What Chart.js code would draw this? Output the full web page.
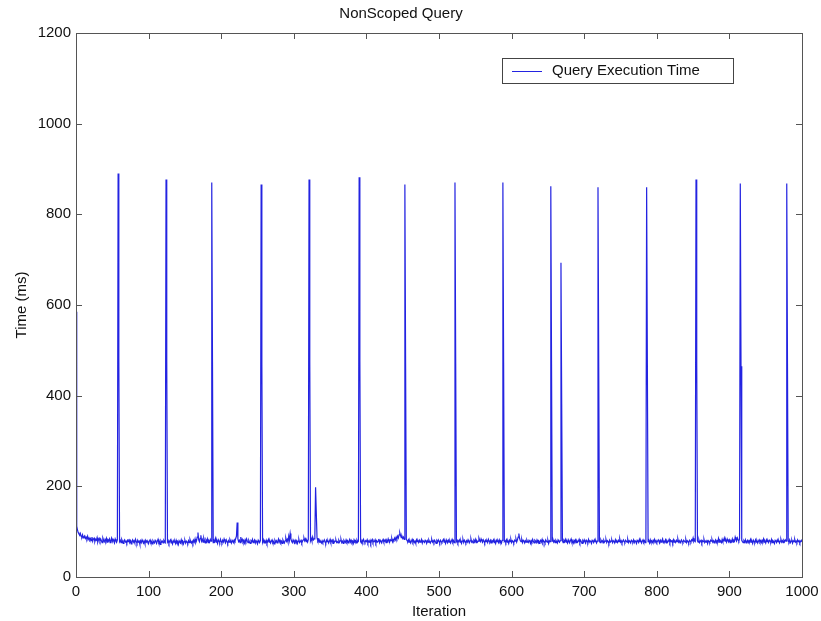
<!DOCTYPE html>
<html>
<head>
<meta charset="utf-8">
<script src="https://cdn.jsdelivr.net/npm/chart.js@4"></script>
<style>
  html, body { margin: 0; padding: 0; background: #fff; }
  #wrap { width: 821px; height: 621px; }
</style>
</head>
<body>
<div id="wrap"><canvas id="queryChart" width="821" height="621"></canvas></div>
<script>
// query time per iteration (ms), index = iteration number
const queryTimes = [
  585, 112, 104, 98, 95, 92, 96, 90, 88, 93, 86, 89, 91, 85, 88, 84, 90, 83, 86, 82,
  85, 80, 88, 79, 84, 86, 78, 83, 81, 87, 77, 82, 85, 79, 84, 80, 76, 86, 81, 78,
  83, 79, 85, 77, 82, 80, 84, 76, 81, 86, 78, 83, 79, 75, 84, 80, 77, 82, 890, 483,
  78, 81, 76, 83, 79, 74, 80, 82, 77, 79, 75, 81, 78, 84, 76, 80, 73, 79, 82, 77,
  80, 75, 83, 78, 74, 81, 77, 79, 72, 80, 76, 82, 78, 75, 79, 73, 81, 77, 80, 76,
  74, 79, 82, 76, 78, 73, 80, 77, 75, 81, 78, 74, 79, 83, 76, 78, 72, 80, 77, 79,
  75, 81, 78, 76, 877, 477, 77, 80, 74, 79, 82, 75, 78, 73, 80, 77, 79, 74, 81, 76,
  78, 72, 80, 77, 75, 82, 76, 79, 73, 78, 81, 75, 79, 77, 74, 80, 76, 83, 78, 75,
  79, 74, 81, 77, 84, 76, 80, 88, 98, 82, 78, 85, 92, 79, 83, 77, 86, 80, 75, 82,
  78, 84, 76, 80, 77, 83, 79, 870, 473, 76, 81, 78, 85, 77, 80, 74, 82, 79, 76, 83,
  78, 75, 81, 77, 84, 79, 76, 82, 78, 74, 80, 77, 83, 79, 75, 81, 78, 76, 82, 79,
  85, 90, 120, 84, 78, 81, 76, 88, 79, 83, 77, 80, 75, 82, 78, 84, 79, 76, 81, 77,
  74, 80, 78, 83, 76, 79, 82, 75, 80, 77, 73, 81, 78, 76, 80, 866, 473, 77, 82, 75,
  79, 76, 81, 74, 78, 83, 77, 80, 75, 79, 82, 76, 78, 73, 81, 77, 80, 75, 79, 84,
  77, 81, 76, 79, 74, 82, 78, 75, 80, 86, 79, 83, 77, 90, 81, 96, 84, 79, 76, 82,
  78, 75, 81, 77, 80, 74, 79, 83, 76, 78, 81, 75, 79, 82, 86, 80, 84, 78, 81, 77,
  83, 877, 475, 80, 85, 79, 88, 82, 84, 90, 198, 141, 86, 80, 83, 77, 81, 78, 75, 80,
  76, 79, 82, 77, 74, 81, 78, 80, 75, 79, 83, 76, 78, 81, 74, 80, 77, 79, 82, 76,
  78, 75, 81, 77, 80, 83, 76, 79, 74, 81, 78, 76, 82, 77, 80, 75, 79, 83, 77, 81,
  76, 79, 74, 82, 78, 80, 75, 81, 77, 79, 882, 477, 78, 75, 81, 77, 83, 79, 76, 80,
  78, 82, 75, 79, 77, 81, 74, 80, 83, 76, 79, 78, 82, 75, 80, 77, 79, 84, 76, 81,
  78, 75, 80, 83, 77, 79, 82, 76, 81, 78, 84, 79, 77, 82, 80, 85, 78, 83, 81, 86,
  82, 88, 84, 90, 86, 93, 98, 92, 87, 90, 85, 88, 83, 866, 468, 84, 80, 78, 82, 77,
  80, 75, 79, 83, 77, 81, 76, 79, 74, 82, 78, 80, 76, 81, 77, 79, 83, 75, 80, 78,
  76, 81, 79, 74, 80, 77, 82, 78, 75, 79, 83, 77, 80, 76, 81, 78, 74, 80, 77, 82,
  79, 75, 81, 78, 76, 80, 83, 77, 79, 74, 82, 78, 76, 81, 77, 80, 75, 79, 83, 77,
  80, 76, 870, 470, 78, 81, 75, 79, 82, 77, 80, 74, 79, 83, 76, 81, 78, 75, 80, 77,
  82, 78, 76, 80, 84, 77, 79, 75, 81, 78, 83, 76, 80, 77, 79, 86, 81, 78, 84, 80,
  77, 82, 79, 75, 81, 78, 80, 76, 83, 79, 77, 81, 75, 80, 78, 82, 76, 79, 74, 81,
  78, 80, 76, 82, 77, 79, 75, 81, 870, 473, 78, 80, 76, 82, 77, 79, 74, 81, 78, 83,
  76, 80, 78, 75, 81, 79, 84, 77, 82, 88, 96, 85, 80, 78, 83, 76, 81, 79, 75, 80,
  77, 82, 78, 76, 81, 79, 74, 80, 77, 83, 78, 75, 81, 79, 76, 82, 78, 80, 74, 79,
  81, 77, 83, 76, 80, 78, 75, 82, 79, 77, 81, 74, 80, 78, 862, 470, 79, 83, 77, 80,
  76, 81, 78, 75, 82, 79, 77, 80, 693, 383, 80, 76, 81, 78, 83, 77, 79, 75, 82, 78,
  76, 80, 84, 77, 79, 75, 81, 78, 82, 76, 80, 77, 79, 83, 76, 81, 78, 74, 80, 77,
  82, 78, 75, 81, 79, 76, 83, 77, 80, 78, 74, 81, 79, 76, 82, 78, 80, 75, 79, 860,
  470, 79, 76, 82, 78, 80, 75, 81, 77, 79, 83, 76, 80, 78, 74, 81, 77, 79, 82, 76,
  80, 78, 75, 82, 77, 79, 76, 81, 78, 84, 77, 80, 75, 79, 82, 78, 76, 81, 79, 77,
  83, 76, 80, 78, 75, 81, 79, 77, 82, 76, 80, 78, 74, 81, 79, 76, 83, 78, 80, 75,
  79, 82, 77, 80, 76, 81, 860, 470, 78, 80, 75, 82, 77, 79, 76, 81, 78, 83, 77, 80,
  76, 79, 82, 78, 75, 81, 77, 80, 84, 76, 79, 78, 82, 75, 80, 77, 79, 83, 76, 81,
  78, 80, 75, 82, 77, 79, 76, 81, 78, 84, 77, 80, 75, 79, 82, 78, 76, 81, 79, 77,
  83, 76, 80, 78, 75, 81, 79, 77, 82, 80, 86, 78, 81, 79, 877, 475, 80, 77, 82, 76,
  79, 81, 75, 80, 78, 83, 76, 79, 77, 82, 74, 80, 78, 76, 81, 79, 83, 77, 80, 75,
  79, 82, 76, 80, 78, 85, 77, 81, 79, 76, 83, 78, 80, 86, 79, 82, 77, 84, 80, 78,
  82, 76, 80, 78, 84, 77, 81, 79, 88, 83, 80, 86, 82, 79, 84, 868, 465, 81, 78, 76,
  80, 77, 82, 75, 79, 81, 76, 80, 78, 83, 77, 79, 74, 81, 78, 76, 82, 77, 80, 75,
  79, 82, 77, 80, 76, 81, 78, 84, 77, 79, 75, 82, 78, 80, 76, 81, 79, 77, 83, 76,
  80, 78, 74, 81, 79, 76, 82, 78, 80, 75, 79, 83, 77, 80, 76, 81, 78, 82, 79, 868,
  470, 80, 77, 82, 76, 79, 81, 75, 80, 78, 83, 77, 79, 76, 82, 78, 80, 75, 79, 81,
  77
];
const xTicks = [0, 100, 200, 300, 400, 500, 600, 700, 800, 900, 1000];
const yTicks = [0, 200, 400, 600, 800, 1000, 1200];

const FONT = '"Liberation Sans", Arial, Helvetica, sans-serif';
const LINE_COLOR = 'rgb(35, 35, 225)';

// matlab style: box all round, ticks pointing inward, legend box top right
const matlabFrame = {
  id: 'matlabFrame',
  afterDatasetsDraw(chart) {
    const { ctx, chartArea: a, scales } = chart;
    ctx.save();
    ctx.strokeStyle = '#555';
    ctx.lineWidth = 1;
    ctx.strokeRect(a.left + 0.5, a.top + 0.5, a.right - a.left, a.bottom - a.top);
    ctx.beginPath();
    const t = 6;
    xTicks.forEach(v => {
      const x = Math.round(scales.x.getPixelForValue(v)) + 0.5;
      ctx.moveTo(x, a.bottom); ctx.lineTo(x, a.bottom - t);
      ctx.moveTo(x, a.top); ctx.lineTo(x, a.top + t);
    });
    yTicks.forEach(v => {
      const y = Math.round(scales.y.getPixelForValue(v)) + 0.5;
      ctx.moveTo(a.left, y); ctx.lineTo(a.left + t, y);
      ctx.moveTo(a.right, y); ctx.lineTo(a.right - t, y);
    });
    ctx.stroke();

    // legend
    const lx = 502, ly = 58, lw = 231, lh = 25;
    ctx.fillStyle = '#fff';
    ctx.fillRect(lx, ly, lw, lh);
    ctx.strokeStyle = '#444';
    ctx.strokeRect(lx + 0.5, ly + 0.5, lw, lh);
    ctx.strokeStyle = LINE_COLOR;
    ctx.beginPath();
    ctx.moveTo(512, ly + 13.5); ctx.lineTo(542, ly + 13.5);
    ctx.stroke();
    ctx.fillStyle = '#111';
    ctx.font = '15px ' + FONT;
    ctx.textBaseline = 'middle';
    ctx.fillText(chart.data.datasets[0].label, 552, ly + 13);
    ctx.restore();
  }
};

const ctx = document.getElementById('queryChart').getContext('2d');
const queryChart = new Chart(ctx, {
  type: 'line',
  data: {
    datasets: [{
      label: 'Query Execution Time',
      data: queryTimes.map((v, i) => ({ x: i, y: v })),
      borderColor: LINE_COLOR,
      borderWidth: 1.2,
      pointRadius: 0,
      fill: false,
      tension: 0
    }]
  },
  options: {
    responsive: false,
    animation: false,
    layout: { padding: { left: 0, right: 19, top: 0, bottom: 0 } },
    plugins: {
      legend: { display: false },
      tooltip: { enabled: false },
      title: {
        display: true,
        text: 'NonScoped Query',
        color: '#111',
        font: { family: FONT, size: 15, weight: 'normal' },
        padding: { top: 5, bottom: 10 }
      }
    },
    scales: {
      x: {
        type: 'linear',
        min: 0,
        max: 1000,
        afterFit: s => { s.height = 44; s.paddingLeft = 0; s.paddingRight = 0; },
        afterBuildTicks: s => { s.ticks = xTicks.map(v => ({ value: v })); },
        grid: { display: false, drawTicks: false },
        border: { display: false },
        ticks: { color: '#111', font: { family: FONT, size: 15 }, padding: 6, maxRotation: 0, callback: v => String(v) },
        title: { display: true, text: 'Iteration', color: '#111', font: { family: FONT, size: 15 }, padding: { top: 0, bottom: 0 } }
      },
      y: {
        type: 'linear',
        min: 0,
        max: 1200,
        afterFit: s => { s.width = 76; },
        afterBuildTicks: s => { s.ticks = yTicks.map(v => ({ value: v })); },
        grid: { display: false, drawTicks: false },
        border: { display: false },
        ticks: { color: '#111', font: { family: FONT, size: 15 }, padding: 5, callback: v => String(v) },
        title: { display: true, text: 'Time (ms)', color: '#111', font: { family: FONT, size: 15 }, padding: { top: 13, bottom: 0 } }
      }
    }
  },
  plugins: [matlabFrame]
});
</script>
</body>
</html>
